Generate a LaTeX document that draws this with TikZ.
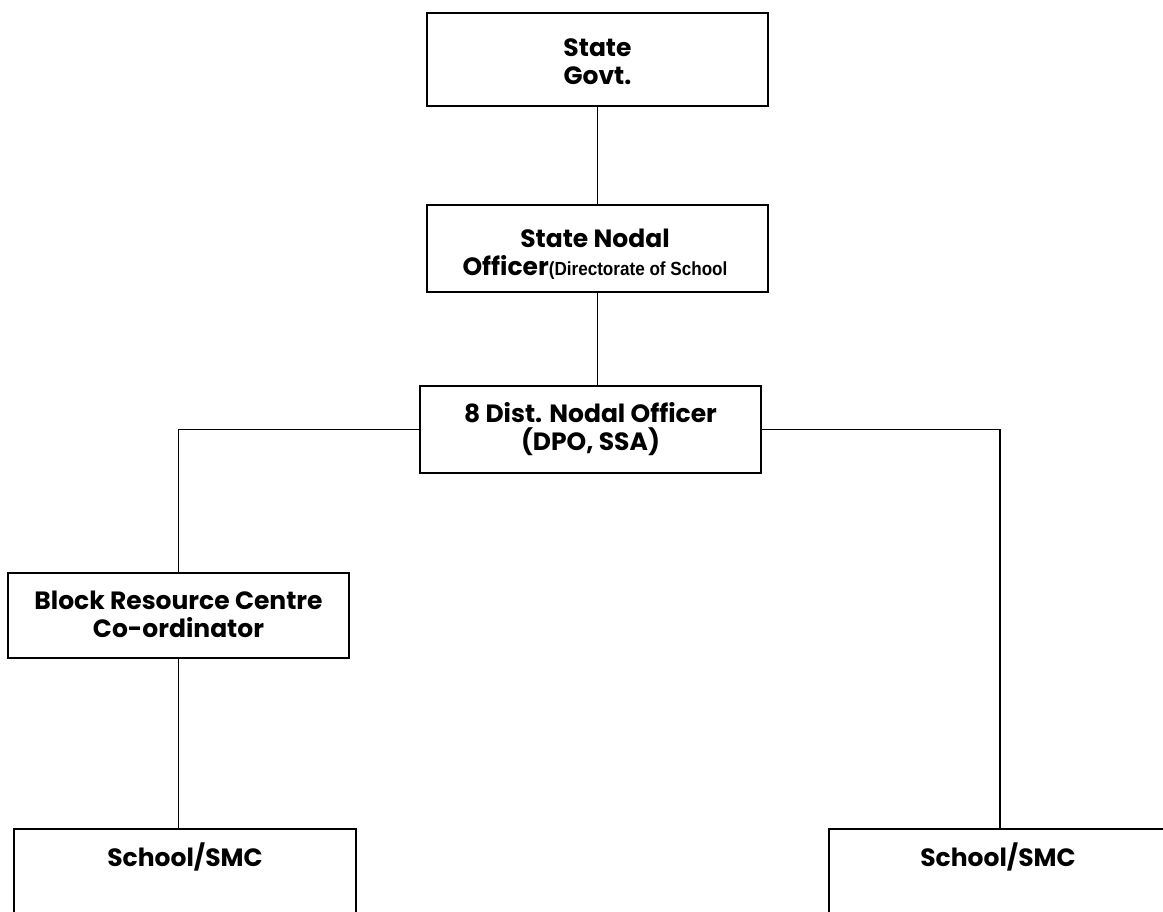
\documentclass[tikz,border=0pt]{standalone}
\usepackage{fontspec}
\setmainfont{Poppins}
\newfontfamily\narrowfont[FakeStretch=0.9]{Liberation Sans}
\begin{document}
\begin{tikzpicture}[x=1pt,y=-1pt,
  box/.style={draw,line width=1.6pt,inner sep=0pt},
  lbl/.style={font=\bfseries\fontsize{25}{28}\selectfont,align=center,inner sep=0pt},
  conn/.style={line width=1.8pt}]
\useasboundingbox (0,0) rectangle (1163,912);
\clip (0,0) rectangle (1163,912);
% boxes
\node[box,minimum width=341pt,minimum height=93pt] (gov) at (597.5,59.5) {};
\node[lbl] (govt) at (597.5,61.5) {State\\Govt.};
\node[box,minimum width=341pt,minimum height=87pt] (nodal) at (597.5,248.5) {};
\node[lbl] (nodalt) at (595,254) {State Nodal\\Officer{\narrowfont\fontsize{19}{19}\selectfont(Directorate of School}};
\node[box,minimum width=341pt,minimum height=87pt] (dist) at (590.5,429.5) {};
\node[lbl] (distt) at (590.5,429) {8 Dist. Nodal Officer\\(DPO, SSA)};
\node[box,minimum width=341pt,minimum height=85pt] (block) at (178.5,615.5) {};
\node[lbl] (blockt) at (178.5,614.5) {Block Resource Centre\\Co-ordinator};
\node[box,minimum width=342pt,minimum height=110pt] (schoolL) at (185,884) {};
\node[lbl] (schoolLt) at (185,857) {School/SMC};
\node[box,minimum width=342pt,minimum height=110pt] (schoolR) at (1000,884) {};
\node[lbl] (schoolRt) at (998,857) {School/SMC};
% connectors
\draw[conn] (gov.south) -- (nodal.north);
\draw[conn] (nodal.south) -- (nodal.south |- dist.north);
\draw[conn] (dist.west) -| (block.north);
\draw[conn] (dist.east) -| (schoolR.north);
\draw[conn] (block.south) -- (block.south |- schoolL.north);
\end{tikzpicture}
\end{document}
